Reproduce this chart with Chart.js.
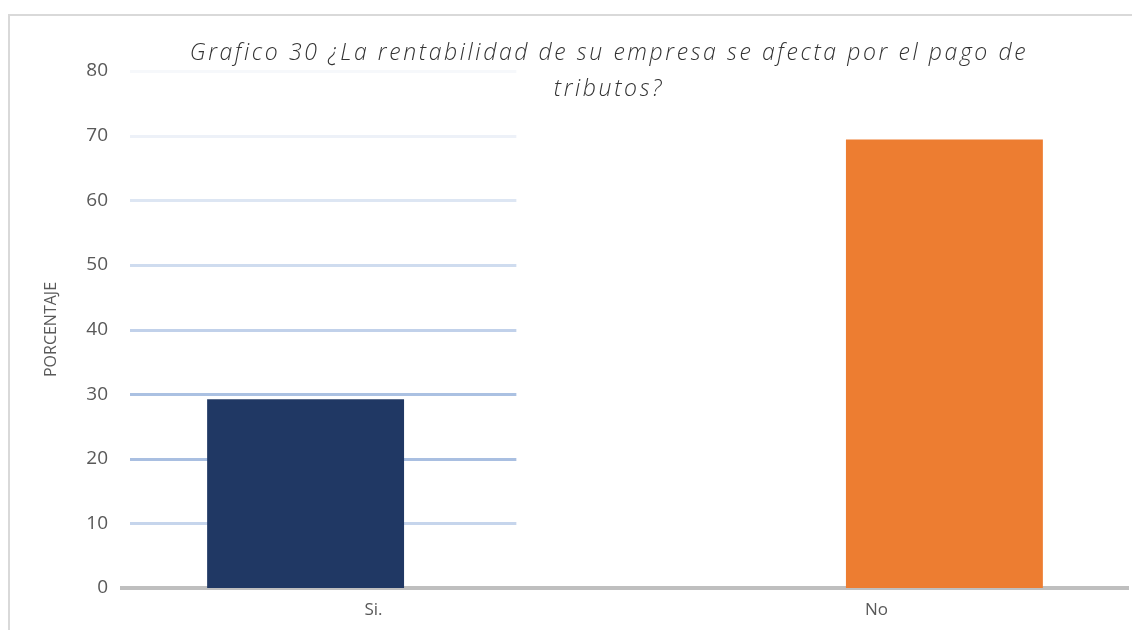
<!DOCTYPE html>
<html lang="es">
<head>
    <meta charset="UTF-8">
    <title>Grafico 30</title>
    <script src="https://cdn.jsdelivr.net/npm/chart.js"></script>
    <style>
        html, body {
            margin: 0;
            padding: 0;
            background: #fff;
        }

        .frame {
            position: absolute;
            left: 8px;
            top: 14px;
            width: 1124px;
            height: 616px;
            border-top: 2px solid #d9d9d9;
            border-left: 2px solid #d9d9d9;
            box-sizing: border-box;
        }

        .chart-box {
            position: absolute;
            left: 0;
            top: 0;
            width: 1132px;
            height: 630px;
        }

        .titulo {
            position: absolute;
            left: 108px;
            width: 1002px;
            top: 33px;
            text-align: center;
            font-family: "Open Sans", sans-serif;
            font-style: italic;
            font-weight: 300;
            font-size: 23px;
            line-height: 36px;
            letter-spacing: 2.6px;
            color: #333333;
        }
    </style>
</head>
<body>
    <div class="frame"></div>
    <div class="chart-box">
        <canvas id="myChart" width="1132" height="630"></canvas>
    </div>
    <div class="titulo">Grafico 30 ¿La rentabilidad de su empresa se afecta por el pago de<br>tributos?</div>

    <script>
        const categorias = ['Si.', 'No'];
        const valoresSi = [29.2, null];
        const valoresNo = [null, 69.4];
        const ticksY = [0, 10, 20, 30, 40, 50, 60, 70, 80];
        const coloresGrid = ['#ffffff', '#c6d5ec', '#a9bfe1', '#abc1e2', '#c1d1ea', '#cfdcef', '#dde6f3', '#edf1f8', '#f6f8fb'];

        // líneas de cuadrícula solo en la mitad izquierda (como en el original)
        const gridIzquierda = {
            id: 'gridIzquierda',
            beforeDatasetsDraw(chart) {
                const { ctx, chartArea, scales: { y } } = chart;
                const x0 = chartArea.left + 8;
                const x1 = chartArea.left + (chartArea.right - chartArea.left) * 0.392;
                ctx.save();
                ctx.lineWidth = 3;
                ticksY.forEach((v, i) => {
                    if (v === 0) return;
                    const py = Math.round(y.getPixelForValue(v)) + 0.5;
                    ctx.strokeStyle = coloresGrid[i];
                    ctx.beginPath();
                    ctx.moveTo(x0, py);
                    ctx.lineTo(x1, py);
                    ctx.stroke();
                });
                ctx.restore();
            }
        };

        const ctx = document.getElementById('myChart').getContext('2d');
        const chart = new Chart(ctx, {
            type: 'bar',
            data: {
                labels: categorias,
                datasets: [
                    {
                        label: 'Si.',
                        data: valoresSi,
                        backgroundColor: '#203864',
                        categoryPercentage: 0.54,
                        barPercentage: 1.45
                    },
                    {
                        label: 'No',
                        data: valoresNo,
                        backgroundColor: '#ed7d31',
                        categoryPercentage: 0.54,
                        barPercentage: 1.45
                    }
                ]
            },
            options: {
                responsive: false,
                animation: false,
                layout: {
                    padding: { top: 71, right: 4, left: 42, bottom: 0 }
                },
                scales: {
                    x: {
                        grid: { display: false, drawTicks: false },
                        border: { display: true, color: '#bfbfbf', width: 4 },
                        ticks: {
                            color: '#595959',
                            font: { family: 'Open Sans', size: 17 },
                            padding: 12
                        },
                        afterFit(scale) { scale.height = 42; }
                    },
                    y: {
                        min: 0,
                        max: 80,
                        grid: { display: false, drawTicks: false },
                        border: { display: false },
                        ticks: {
                            stepSize: 10,
                            color: '#595959',
                            font: { family: 'Open Sans', size: 19 },
                            padding: 14
                        },
                        title: {
                            display: true,
                            text: 'PORCENTAJE',
                            color: '#595959',
                            font: { family: 'Open Sans', size: 16 },
                            padding: 0
                        },
                        afterFit(scale) { scale.width = 80; }
                    }
                },
                plugins: {
                    legend: { display: false },
                    tooltip: { enabled: false }
                }
            },
            plugins: [gridIzquierda]
        });
    </script>
</body>
</html>
